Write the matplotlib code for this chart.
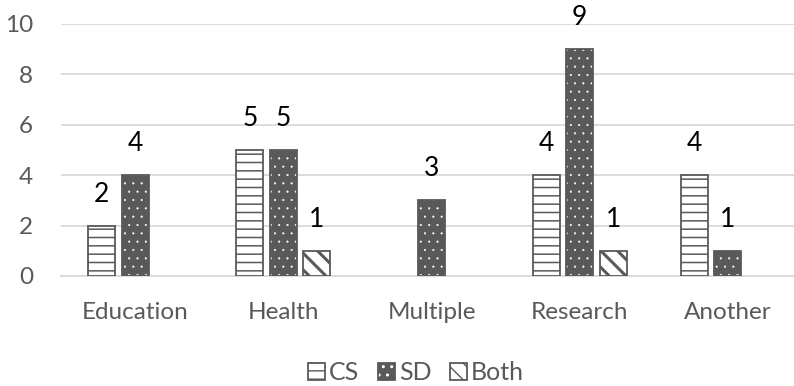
import matplotlib
matplotlib.use("Agg")
import matplotlib.pyplot as plt
import numpy as np

categories = ["Education", "Health", "Multiple", "Research", "Another"]
cs_values = [2, 5, None, 4, 4]
sd_values = [4, 5, 3, 9, 1]
both_values = [None, 1, None, 1, None]
y_ticks = [0, 2, 4, 6, 8, 10]

plt.rcParams["font.family"] = ["Lato", "DejaVu Sans"]

fig = plt.figure(figsize=(7.94, 3.86), dpi=100)
ax = fig.add_axes([61 / 794, 1 - 276 / 386, 741 / 794, 252 / 386])

gray = "#595959"
x = np.arange(len(categories))
width = 0.182
step = 0.226

series = [
    ("CS", cs_values, -step, dict(face="white", hcol=gray, hatch="--", hlw=1.1)),
    ("SD", sd_values, 0.0, dict(face=gray, hcol="white", hatch="..", hlw=0.3)),
    ("Both", both_values, step, dict(face="white", hcol=gray, hatch="\\\\", hlw=2.2)),
]

handles = []
for name, vals, off, st in series:
    xs = [xi + off for xi, v in zip(x, vals) if v is not None]
    hs = [v for v in vals if v is not None]
    with plt.rc_context({"hatch.linewidth": st["hlw"]}):
        ax.bar(xs, hs, width, color=st["face"], edgecolor=st["hcol"],
               hatch=st["hatch"], linewidth=0, zorder=3)
        h_fill = plt.Rectangle((0, 0), 1, 1, facecolor=st["face"],
                               edgecolor=st["hcol"], hatch=st["hatch"], linewidth=0)
    h_edge = plt.Rectangle((0, 0), 1, 1, fill=False, edgecolor=gray, linewidth=1.3)
    ax.bar(xs, hs, width, fill=False, edgecolor=gray, linewidth=1.3, zorder=4)
    for xi, v in zip(xs, hs):
        ax.text(xi, v + 0.95, str(v), ha="center", va="baseline", fontsize=19,
                color="black", zorder=5)
    handles.append(((h_fill, h_edge), name))

ax.set_ylim(0, 10)
ax.set_xlim(-0.5, len(categories) - 0.5)
ax.set_yticks(y_ticks)
ax.set_xticks(x)
ax.set_xticklabels(categories)
ax.tick_params(axis="both", length=0, labelsize=17.5, colors=gray)
ax.tick_params(axis="x", pad=19)
ax.tick_params(axis="y", pad=20)
ax.grid(axis="y", color="#d9d9d9", linewidth=1.3, zorder=0)
for s in ["top", "right", "left"]:
    ax.spines[s].set_visible(False)
ax.spines["bottom"].set_color("#d9d9d9")
ax.spines["bottom"].set_linewidth(1.3)

fig.legend([h for h, _ in handles], [n for _, n in handles], loc="center",
           ncol=3, frameon=False, fontsize=18, bbox_to_anchor=(416 / 794, 1 - 373 / 386),
           handlelength=0.68, handleheight=0.68, handletextpad=0.15, columnspacing=0.75,
           labelcolor=gray, borderpad=0)

fig.savefig("out.png", dpi=100)
